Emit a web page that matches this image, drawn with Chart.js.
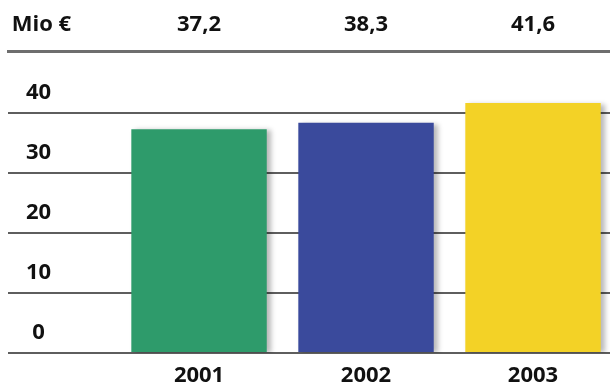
<!DOCTYPE html>
<html>
<head>
<meta charset="utf-8">
<script src="https://cdn.jsdelivr.net/npm/chart.js@4/dist/chart.umd.min.js"></script>
<style>
  html, body { margin: 0; padding: 0; background: #fff; overflow: hidden; }
  #wrap { position: relative; width: 610px; height: 385px; }
</style>
</head>
<body>
<div id="wrap"><canvas id="umsatzChart"></canvas></div>
<script>
const years = [2001, 2002, 2003];
const values = [37.2, 38.3, 41.6];
const barColors = ["#2e9b6b", "#3a4a9c", "#f3d226"];
const unitLabel = "Mio €";
const yTicks = [0, 10, 20, 30, 40];

// x-Bereich so gewählt, dass die Linien links bis an den Rand laufen
const xMin = 1999.856;
const xMax = 2003.461;
const unitTick = xMin + 0.2;

const fmt = (v) => v.toFixed(1).replace(".", ",");

const labelFont = { family: '"Open Sans", sans-serif', size: 22, weight: "bold" };

// feste Achsengrößen, damit die Zeichenfläche genau sitzt
const fixSize = (size) => (axis) => {
  axis.paddingLeft = 0;
  axis.paddingRight = 0;
  axis.paddingTop = 0;
  axis.paddingBottom = 0;
  if (axis.isHorizontal()) {
    axis.height = size;
  } else {
    axis.width = size;
  }
};

// leichter Schatten rechts neben den Balken
const barShadow = {
  id: "barShadow",
  beforeDatasetsDraw(chart) {
    const ctx = chart.ctx;
    ctx.save();
    ctx.shadowColor = "rgba(0,0,0,0.28)";
    ctx.shadowBlur = 5;
    ctx.shadowOffsetX = 4;
    ctx.shadowOffsetY = 1;
  },
  afterDatasetsDraw(chart) {
    chart.ctx.restore();
  },
};

window.addEventListener("load", () => {
  const ctx = document.getElementById("umsatzChart");
  new Chart(ctx, {
    type: "bar",
    data: {
      datasets: [
        {
          label: unitLabel,
          data: years.map((yr, i) => ({ x: yr, y: values[i] })),
          backgroundColor: barColors,
          borderWidth: 0,
          categoryPercentage: 1.0,
          barPercentage: 0.811,
          xAxisID: "x",
          yAxisID: "y",
        },
      ],
    },
    options: {
      responsive: true,
      maintainAspectRatio: false,
      animation: false,
      layout: { padding: { left: 8, right: 0, top: 0, bottom: 0 } },
      plugins: {
        legend: { display: false },
        tooltip: { enabled: false },
      },
      scales: {
        x: {
          type: "linear",
          position: "bottom",
          min: xMin,
          max: xMax,
          offset: false,
          grid: { display: false, offset: false, drawTicks: false },
          border: { display: false },
          afterBuildTicks: (axis) => {
            axis.ticks = years.map((v) => ({ value: v }));
          },
          afterFit: fixSize(32),
          ticks: {
            color: "#111",
            font: { ...labelFont, lineHeight: 0.8 },
            padding: 13.5,
            maxRotation: 0,
            callback: (value) => String(value),
          },
        },
        xTop: {
          type: "linear",
          position: "top",
          min: xMin,
          max: xMax,
          offset: false,
          grid: { display: false, offset: false, drawTicks: false },
          border: { display: true, color: "#6e6e6e", width: 3 },
          afterBuildTicks: (axis) => {
            axis.ticks = [unitTick, ...years].map((v) => ({ value: v }));
          },
          afterFit: fixSize(51),
          ticks: {
            color: "#111",
            font: { ...labelFont, lineHeight: 2.09 },
            padding: 3,
            maxRotation: 0,
            callback: (value) => {
              const i = years.indexOf(value);
              return i < 0 ? unitLabel : fmt(values[i]);
            },
          },
        },
        y: {
          type: "linear",
          min: 0,
          max: 50.23,
          grid: {
            color: "#5e5e5e",
            lineWidth: 2,
            drawTicks: false,
          },
          border: { display: false },
          afterBuildTicks: (axis) => {
            axis.ticks = yTicks.map((v) => ({ value: v }));
          },
          afterFit: fixSize(0),
          ticks: {
            mirror: true,
            crossAlign: "center",
            padding: 18,
            labelOffset: -20,
            color: "#111",
            font: labelFont,
          },
        },
      },
    },
    plugins: [barShadow],
  });
});
</script>
</body>
</html>
